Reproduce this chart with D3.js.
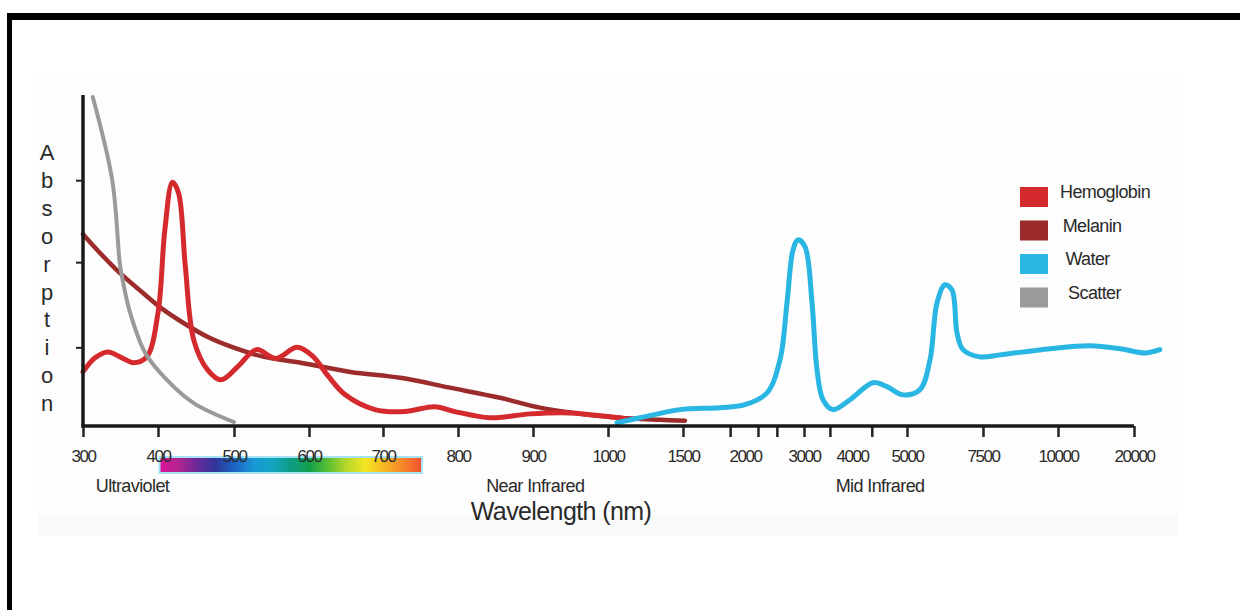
<!DOCTYPE html>
<html lang="en">
<head>
<meta charset="UTF-8">
<title>Absorption spectra</title>
<script src="https://d3js.org/d3.v7.min.js"></script>
<style>
    body { margin: 0; background: #fff; }
    text { font-family: "Liberation Sans", Arial, sans-serif; fill: #2a2a2a; }
    .tick-label { font-size: 17px; letter-spacing: -1.5px; }
    .band-label { font-size: 18px; letter-spacing: -0.6px; }
    .legend-label { font-size: 18px; letter-spacing: -0.6px; }
</style>
</head>
<body>
<svg width="1240" height="610"></svg>
<script>
// wavelength breakpoints of the (non linear) x axis, nm
var wavelengthBreaks = [300, 400, 500, 600, 700, 800, 900, 1000, 1500, 2000, 3000, 4000, 5000, 7500, 10000, 20000];
var labelValues = [300, 400, 500, 600, 700, 800, 900, 1000, 1500, 2000, 3000, 4000, 5000, 7500, 10000, 20000];
var tickValues = [300, 400, 500, 600, 700, 800, 900, 1000, 1500, 1880, 2220, 2540, 3000, 3540, 4360, 5000, 7500, 10000, 20000];
var yTickValues = [23, 49, 74];

// [wavelength nm, relative absorption]
var hemoglobin = [[300,15.5],[316,19.8],[333,21.6],[352,19.8],[367,18.3],[385,20.1],[400,33.5],[409,58.8],[419,73.4],[427,70.1],[436,47.6],[447,25.3],[465,16.2],[483,13.1],[505,17.1],[530,22.3],[556,19.6],[584,23.0],[605,20.3],[625,14.5],[649,8.5],[689,4.0],[729,3.4],[769,4.9],[796,3.4],[843,1.5],[896,2.7],[949,3.0],[1013,1.8],[1113,1.2]];
var melanin = [[300,57.5],[319,52.7],[349,45.7],[380,39.6],[407,34.5],[433,30.5],[465,26.2],[496,23.2],[540,20.1],[589,18.3],[656,15.5],[723,13.7],[789,10.7],[856,7.6],[909,4.6],[963,2.7],[1080,1.5],[1347,0.9],[1516,0.6]];
var water = [[1060,0],[1213,1.5],[1480,4.0],[1798,4.6],[2000,5.5],[2373,9.1],[2593,19.2],[2712,36.6],[2814,52.7],[2898,55.8],[3021,53.7],[3167,36.6],[3271,16.2],[3396,7.0],[3604,4.0],[3958,7.0],[4382,12.2],[4636,11.0],[4927,8.5],[5428,10.1],[5757,19.2],[5987,36.6],[6250,42.1],[6481,40.5],[6645,27.4],[6842,22.3],[7401,20.1],[8066,20.7],[9731,22.6],[14211,23.5],[18159,22.6],[21447,21.3],[23400,22.3]];
var scatter = [[313,99.4],[339,74.0],[349,48.7],[352,44.5],[363,33.4],[383,21.3],[412,13.0],[447,6.0],[500,0.2]];

var seriesNames = ["Hemoglobin", "Melanin", "Water", "Scatter"];
var seriesColors = ["#d42a2e", "#9c2b2b", "#2ab6e2", "#9a9a9a"];
var bandNames = ["Ultraviolet", "Near Infrared", "Mid Infrared"];
var bandCenters = [366, 903, 4510];
var spectrumColors = ["#e0129c", "#b2248f", "#6a2a98", "#30379a", "#1c63c4", "#1a96d6", "#12a5c2", "#0e9c86", "#12a04a", "#5cbf34", "#b9d82a", "#f4e524", "#f7b524", "#f6852a", "#f0502e"];

var svg = d3.select("svg");

// faint panel behind the plot
svg.append("rect").attr("x", 38).attr("y", 72).attr("width", 1140).attr("height", 464).attr("fill", "#fdfdfd");
svg.append("rect").attr("x", 38).attr("y", 516).attr("width", 1140).attr("height", 20).attr("fill", "#f8fafa");

// frame
svg.append("rect").attr("x", 7).attr("y", 13).attr("width", 1233).attr("height", 7).attr("fill", "#000");
svg.append("rect").attr("x", 7).attr("y", 13).attr("width", 5).attr("height", 597).attr("fill", "#000");

var x = d3.scaleLinear()
    .domain(wavelengthBreaks)
    .range([83, 158, 234, 309, 383, 458, 533, 608, 683, 745, 804, 852, 907, 983, 1058, 1134]);

var y = d3.scaleLinear()
    .domain([-1, 100])
    .range([426, 95]);

// spectrum bar
var grad = svg.append("defs").append("linearGradient").attr("id", "spec");
spectrumColors.forEach(function (c, i) {
    grad.append("stop").attr("offset", (i / (spectrumColors.length - 1) * 100) + "%").attr("stop-color", c);
});
svg.append("rect")
    .attr("x", x(402)).attr("y", 457)
    .attr("width", x(752) - x(402)).attr("height", 16)
    .attr("fill", "url(#spec)")
    .attr("stroke", "#a4e2f4").attr("stroke-width", 2);

// curves
var line = d3.line()
    .x(function (d) { return x(d[0]); })
    .y(function (d) { return y(d[1]); })
    .curve(d3.curveCatmullRom.alpha(0.5));

var curves = [
    { data: melanin, color: seriesColors[1], w: 4.5 },
    { data: hemoglobin, color: seriesColors[0], w: 5 },
    { data: scatter, color: seriesColors[3], w: 4 },
    { data: water, color: seriesColors[2], w: 5 }
];
svg.append("g").selectAll("path")
    .data(curves)
    .enter().append("path")
    .attr("d", function (d) { return line(d.data); })
    .attr("fill", "none")
    .attr("stroke", function (d) { return d.color; })
    .attr("stroke-width", function (d) { return d.w; })
    .attr("stroke-linecap", "round")
    .attr("stroke-linejoin", "round");

// axes
var xAxis = svg.append("g")
    .attr("transform", "translate(0," + y(-1) + ")")
    .call(d3.axisBottom(x).tickValues(tickValues).tickSize(11).tickFormat(""));
xAxis.select(".domain").remove();
xAxis.selectAll(".tick line").attr("stroke", "#222").attr("stroke-width", 2.5);
svg.append("line")
    .attr("x1", x(300) - 1.5).attr("x2", x(20000))
    .attr("y1", y(-1)).attr("y2", y(-1))
    .attr("stroke", "#1a1a1a").attr("stroke-width", 3.5);

var xLabels = svg.append("g")
    .attr("transform", "translate(0," + y(-1) + ")")
    .call(d3.axisBottom(x).tickValues(labelValues).tickSize(0).tickPadding(24).tickFormat(d3.format("d")));
xLabels.select(".domain").remove();
xLabels.selectAll("text")
    .attr("class", "tick-label")
    .attr("fill", "#2a2a2a")
    .style("font-family", "'Liberation Sans', Arial, sans-serif");

var yAxis = svg.append("g")
    .attr("transform", "translate(" + x(300) + ",0)")
    .call(d3.axisLeft(y).tickValues(yTickValues).tickSize(7).tickFormat(""));
yAxis.select(".domain").remove();
yAxis.selectAll(".tick line").attr("stroke", "#222").attr("stroke-width", 2);
svg.append("line")
    .attr("x1", x(300)).attr("x2", x(300))
    .attr("y1", y(100)).attr("y2", y(-1) + 1.5)
    .attr("stroke", "#1a1a1a").attr("stroke-width", 3.5);

// vertical "Absorption"
svg.append("g").selectAll("text")
    .data("Absorption".split(""))
    .enter().append("text")
    .attr("x", 47)
    .attr("y", function (d, i) { return 160 + i * 27.9; })
    .attr("text-anchor", "middle")
    .style("font-size", "22px")
    .text(function (d) { return d; });

// band names
svg.append("g").selectAll("text")
    .data(bandNames)
    .enter().append("text")
    .attr("class", "band-label")
    .attr("x", function (d, i) { return x(bandCenters[i]); })
    .attr("y", 492)
    .attr("text-anchor", "middle")
    .text(function (d) { return d; });

svg.append("text")
    .attr("x", 561).attr("y", 520)
    .attr("text-anchor", "middle")
    .style("font-size", "25px")
    .style("letter-spacing", "-0.6px")
    .text("Wavelength (nm)");

// legend
var legend = svg.append("g").selectAll("g")
    .data(seriesNames)
    .enter().append("g")
    .attr("transform", function (d, i) { return "translate(1020," + (187 + i * 33.5) + ")"; });
legend.append("rect")
    .attr("width", 28).attr("height", 20)
    .attr("fill", function (d, i) { return seriesColors[i]; });
legend.append("text")
    .attr("class", "legend-label")
    .attr("x", function (d, i) { return 40 + i * 2.7; })
    .attr("y", 11)
    .text(function (d) { return d; });
</script>
</body>
</html>
